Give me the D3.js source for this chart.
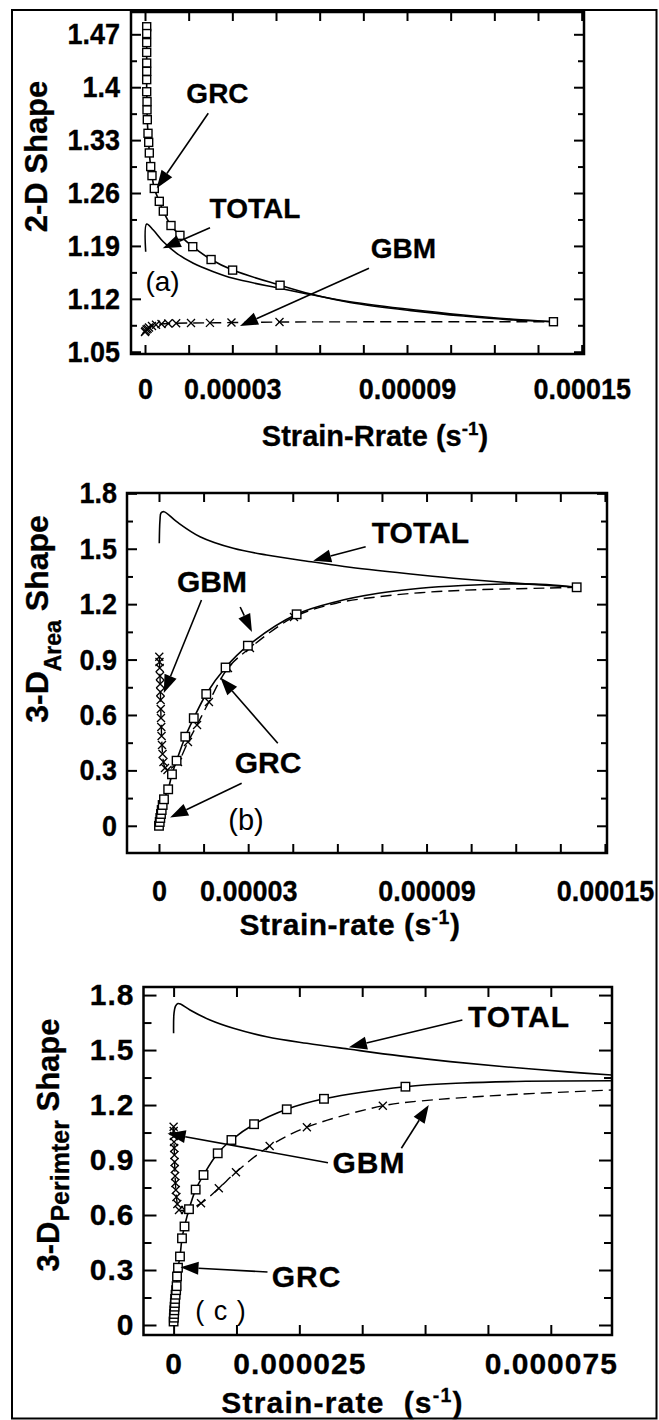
<!DOCTYPE html>
<html>
<head>
<meta charset="utf-8">
<script src="https://cdn.jsdelivr.net/npm/d3@7"></script>
<style>
  body { margin: 0; background: #fff; }
  svg text { font-family: "Liberation Sans", Arial, sans-serif; fill: #000; white-space: pre; }
  .tall { transform-box: fill-box; transform-origin: center; transform: scale(1, 1.1); }
</style>
</head>
<body>
<svg id="fig" width="659" height="1420"></svg>
<script>
// ---- panel (a) data : [strain-rate, shape] ----
var grcMarkA = [[0.00000058,1.480],[0.00000058,1.471],[0.00000058,1.459],[0.00000058,1.446],[0.00000058,1.432],
  [0.00000058,1.421],[0.00000058,1.410],[0.00000058,1.394],[0.00000069,1.381],[0.00000069,1.370],[0.00000079,1.357],
  [0.00000103,1.339],[0.00000127,1.327],[0.00000148,1.313],[0.00000196,1.295],[0.0000024,1.283],[0.00000319,1.266],
  [0.00000491,1.249],[0.00000629,1.236],[0.00000893,1.217],[0.0000120,1.204],[0.0000164,1.189],[0.0000227,1.172],
  [0.0000301,1.158],[0.0000464,1.138],[0.0001403,1.0897]];
var grcTailA = [[0.0000570,1.1263],[0.0000704,1.1151],[0.0000922,1.1040],[0.0001093,1.0972],[0.0001265,1.0919],[0.0001403,1.0897]];
var totalA = [[0.00000024,1.1823],[0.00000058,1.2190],[0.00000285,1.2110],[0.00000629,1.1955],[0.0000109,1.1802],
  [0.0000166,1.1670],[0.0000235,1.1559],[0.0000303,1.1471],[0.0000464,1.1339],[0.0000578,1.1250],[0.0000704,1.1162],
  [0.0000922,1.1055],[0.0001093,1.0986],[0.0001265,1.0929],[0.0001403,1.0897]];
var gbmMarkA = [[0,1.0761],[0.0000002,1.0775],[0.00000052,1.0794],[0.0000009,1.0805],[0.00000137,1.0820],[0.0000024,1.0840],
  [0.00000378,1.0856],[0.00000567,1.0867],[0.0000080,1.0873],[0.0000107,1.0876],[0.0000158,1.0880],[0.0000223,1.0882],
  [0.0000297,1.0886],[0.0000462,1.0893]];
var gbmTailA = [[0.0001403,1.0897]];

// ---- panel (b) data ----
var grcMarkB = [[0,0],[0.00000024,0.0206],[0.00000044,0.0422],[0.00000067,0.0639],[0.00000091,0.0855],[0.00000124,0.1126],
  [0.00000168,0.1435],[0.00000309,0.1976],[0.00000437,0.2788],[0.00000592,0.3525],[0.00000885,0.4824],[0.0000117,0.5826],
  [0.0000159,0.7136],[0.0000224,0.8571],[0.0000299,0.9751],[0.0000463,1.1451],[0.0001405,1.2913]];
var grcTailB = [[0.0000596,1.2133],[0.0000738,1.2588],[0.0000879,1.2859],[0.0001020,1.3010],[0.0001162,1.3091],[0.0001303,1.3065],[0.0001405,1.2913]];
var totalB = [[0.0000001,1.5295],[0.00000034,1.6557],[0.00000067,1.6936],[0.00000168,1.7006],[0.00000595,1.6465],
  [0.0000138,1.5652],[0.0000250,1.5024],[0.0000362,1.466],[0.0000519,1.428],[0.0000642,1.400],[0.0000879,1.358],
  [0.0001020,1.336],[0.0001232,1.310],[0.0001405,1.2913]];
var gbmMarkB = [[0.0000001,0.9155],[0.00000017,0.8868],[0.00000024,0.8544],[0.00000034,0.8111],[0.0000004,0.7677],
  [0.00000047,0.7244],[0.00000054,0.6811],[0.00000061,0.6324],[0.00000067,0.5836],[0.00000077,0.5349],[0.00000087,0.4862],
  [0.00000101,0.4375],[0.00000121,0.3887],[0.00000151,0.3454],[0.00000202,0.3129],[0.00000286,0.3021],[0.00000639,0.3454],
  [0.00000975,0.4537],[0.0000128,0.5458],[0.0000168,0.6703],[0.0000232,0.8543],[0.0000306,0.9626],[0.0000454,1.1305]];
var gbmTailB = [[0.0000596,1.205],[0.0000738,1.240],[0.0000879,1.262],[0.0001020,1.275],[0.0001162,1.282],[0.0001303,1.287],[0.0001405,1.2913]];

// ---- panel (c) data ----
var grcMarkC = [[0,0.019],[0.00000005,0.040],[0.0000001,0.060],[0.00000015,0.080],[0.0000002,0.100],[0.00000025,0.120],
  [0.0000003,0.142],[0.0000004,0.165],[0.0000005,0.190],[0.0000006,0.212],[0.00000068,0.2646],[0.00000087,0.3126],
  [0.00000127,0.3737],[0.00000167,0.4730],[0.00000217,0.5374],[0.00000306,0.6318],[0.00000439,0.7387],[0.00000595,0.8183],
  [0.00000877,0.9367],[0.0000115,1.0093],[0.0000160,1.0955],[0.0000225,1.1768],[0.0000299,1.2340],[0.0000461,1.3001]];
var grcTailC = [[0.0000574,1.3202],[0.0000700,1.3295],[0.0000871,1.3328]];
var totalC = [[0,1.5914],[0.00000008,1.7005],[0.00000038,1.7403],[0.00000087,1.7540],[0.00000147,1.7496],[0.00000326,1.7185],
  [0.00000724,1.6640],[0.0000119,1.6187],[0.0000185,1.5728],[0.0000265,1.5368],[0.0000351,1.5041],[0.0000450,1.468],
  [0.0000550,1.437],[0.0000658,1.409],[0.0000783,1.381],[0.0000871,1.3639]];
var gbmMarkC = [[0,1.0818],[0.00000002,1.0584],[0.00000004,1.0311],[0.00000008,0.9984],[0.00000012,0.9656],[0.00000016,0.9274],
  [0.0000002,0.8893],[0.00000024,0.8511],[0.0000003,0.8129],[0.00000036,0.7747],[0.00000044,0.7365],[0.00000056,0.6983],
  [0.00000074,0.6601],[0.00000107,0.6274],[0.00000227,0.6274],[0.00000545,0.6639],[0.00000899,0.7458],[0.0000124,0.8336],
  [0.0000191,0.9765],[0.0000265,1.0791],[0.0000416,1.1958]];
var gbmTailC = [[0.000049,1.222],[0.0000658,1.2548],[0.0000871,1.282]];

// ---- tick labels ----
var xTickValsAB = [0, 0.00003, 0.00009, 0.00015];
var xTickTextAB = ["0", "0.00003", "0.00009", "0.00015"];
var xTickValsC = [0, 0.000025, 0.000075];
var xTickTextC = ["0", "0.000025", "0.000075"];
var yTickValsA = [1.05, 1.12, 1.19, 1.26, 1.33, 1.4, 1.47];
var yTickTextA = ["1.05", "1.12", "1.19", "1.26", "1.33", "1.4", "1.47"];
var yTickValsBC = [0, 0.3, 0.6, 0.9, 1.2, 1.5, 1.8];
var yTickTextBC = ["0", "0.3", "0.6", "0.9", "1.2", "1.5", "1.8"];

var svg = d3.select("#fig");

// outer frame
svg.append("rect")
    .attr("x", 12).attr("y", 10)
    .attr("width", 644.5).attr("height", 1408.5)
    .attr("fill", "none").attr("stroke", "#000").attr("stroke-width", 2);

function arrow(g, x1, y1, x2, y2) {
    var a = Math.atan2(y2 - y1, x2 - x1);
    var L = 18, W = 6.5;
    var bx = x2 - L * Math.cos(a), by = y2 - L * Math.sin(a);
    g.append("line")
        .attr("x1", x1).attr("y1", y1).attr("x2", bx).attr("y2", by)
        .attr("stroke", "#000").attr("stroke-width", 1.6);
    g.append("path")
        .attr("d", "M" + x2 + "," + y2 +
            "L" + (bx + W * Math.sin(a)) + "," + (by - W * Math.cos(a)) +
            "L" + (bx - W * Math.sin(a)) + "," + (by + W * Math.cos(a)) + "Z")
        .attr("fill", "#000");
}

function panel(p) {
    var x = d3.scaleLinear().domain(p.xDom).range([p.left, p.right]);
    var y = d3.scaleLinear().domain(p.yDom).range([p.bottom, p.top]);
    var g = svg.append("g");

    svg.append("clipPath").attr("id", "clip" + p.id)
        .append("rect")
        .attr("x", p.left).attr("y", p.top)
        .attr("width", p.right - p.left).attr("height", p.bottom - p.top);

    var line = d3.line()
        .x(function(d) { return x(d[0]); })
        .y(function(d) { return y(d[1]); })
        .curve(d3.curveCatmullRom.alpha(0.5));

    var plot = g.append("g").attr("clip-path", "url(#clip" + p.id + ")");

    var gbmLine = p.gbmMark.filter(function(d) { return d[0] < p.gbmTail[0][0]; }).concat(p.gbmTail);
    var grcLine = p.grcMark.filter(function(d) { return d[0] < p.grcTail[0][0]; }).concat(p.grcTail);

    plot.append("path").datum(p.total).attr("d", line)
        .attr("fill", "none").attr("stroke", "#000").attr("stroke-width", 1.6);
    plot.append("path").datum(gbmLine).attr("d", line)
        .attr("fill", "none").attr("stroke", "#000").attr("stroke-width", 1.4)
        .attr("stroke-dasharray", "11,6");
    plot.append("path").datum(grcLine).attr("d", line)
        .attr("fill", "none").attr("stroke", "#000").attr("stroke-width", 1.6);

    // GBM crosses
    plot.selectAll(".cross").data(p.gbmMark).enter().append("path")
        .attr("class", "cross")
        .attr("transform", function(d) { return "translate(" + x(d[0]) + "," + y(d[1]) + ")"; })
        .attr("d", "M-4,-4L4,4M-4,4L4,-4")
        .attr("stroke", "#000").attr("stroke-width", 1.3).attr("fill", "none");

    // GRC squares
    var s = p.sq;
    plot.selectAll(".sq").data(p.grcMark).enter().append("rect")
        .attr("class", "sq")
        .attr("x", function(d) { return x(d[0]) - s / 2; })
        .attr("y", function(d) { return y(d[1]) - s / 2; })
        .attr("width", s).attr("height", s)
        .attr("fill", "#fff").attr("stroke", "#000").attr("stroke-width", 1.4);

    // axes
    var xMinor = d3.range(0, p.xMinorEnd, p.xMinorStep);
    var axes = g.append("g");
    axes.append("g").attr("transform", "translate(0," + p.bottom + ")")
        .call(d3.axisBottom(x).tickValues(xMinor).tickSizeInner(-p.xLen).tickSizeOuter(0).tickFormat(""));
    axes.append("g").attr("transform", "translate(0," + p.top + ")")
        .call(d3.axisTop(x).tickValues(xMinor).tickSizeInner(-p.xLen).tickSizeOuter(0).tickFormat(""));
    axes.append("g").attr("transform", "translate(" + p.left + ",0)")
        .call(d3.axisLeft(y).tickValues(p.yMinor).tickSizeInner(-p.minLen).tickSizeOuter(0).tickFormat(""));
    axes.append("g").attr("transform", "translate(" + p.right + ",0)")
        .call(d3.axisRight(y).tickValues(p.yMinor).tickSizeInner(-p.minLen).tickSizeOuter(0).tickFormat(""));
    axes.append("g").attr("transform", "translate(" + p.right + ",0)")
        .call(d3.axisRight(y).tickValues(p.yTickVals).tickSizeInner(-p.majLen).tickSizeOuter(0).tickFormat(""));

    axes.append("g").attr("transform", "translate(" + p.left + ",0)")
        .call(d3.axisLeft(y).tickValues(p.yTickVals).tickSizeInner(-p.majLen).tickSizeOuter(0)
            .tickPadding(p.yPad).tickFormat(function(d, i) { return p.yTickText[i]; }));
    axes.append("g").attr("transform", "translate(0," + p.bottom + ")")
        .call(d3.axisBottom(x).tickValues(p.xTickVals).tickSize(0)
            .tickPadding(p.xPad).tickFormat(function(d, i) { return p.xTickText[i]; }));

    axes.selectAll(".domain").remove();
    axes.selectAll(".tick line").attr("stroke", "#000").attr("stroke-width", 2);
    axes.selectAll("text")
        .attr("font-family", "'Liberation Sans', Arial, sans-serif")
        .attr("font-size", p.fs).attr("font-weight", "bold")
        .attr("letter-spacing", p.ls).attr("fill", "#000")
        .attr("stroke", "#000").attr("stroke-width", 0.3)
        .classed("tall", p.tall);

    g.append("rect")
        .attr("x", p.left).attr("y", p.top)
        .attr("width", p.right - p.left).attr("height", p.bottom - p.top)
        .attr("fill", "none").attr("stroke", "#000").attr("stroke-width", 2.5);

    // annotations
    var ann = g.append("g");
    p.arrows.forEach(function(a) {
        arrow(ann, x(a[0]), y(a[1]), x(a[2]), y(a[3]));
    });
    p.labels.forEach(function(l) {
        ann.append("text")
            .attr("x", x(l.at[0])).attr("y", y(l.at[1]))
            .attr("text-anchor", "middle")
            .attr("font-size", l.size || p.fs + 1)
            .attr("font-weight", l.normal ? "normal" : "bold")
            .attr("letter-spacing", p.ls)
            .attr("stroke", l.normal ? "none" : "#000").attr("stroke-width", 0.3)
            .text(l.text);
    });

    // axis titles
    var xt = g.append("text")
        .attr("x", p.xTitle.x).attr("y", p.xTitle.y)
        .attr("text-anchor", "middle")
        .attr("font-size", p.titleFs).attr("font-weight", "bold")
        .attr("stroke", "#000").attr("stroke-width", 0.3)
        .attr("letter-spacing", p.titleLs);
    xt.append("tspan").text(p.xTitle.text);
    xt.append("tspan").attr("font-size", p.titleFs * 0.65).attr("dy", -11).text("-1");
    xt.append("tspan").attr("dy", 11).text(")");

    var yt = g.append("text")
        .attr("transform", "translate(" + p.yTitle.x + "," + p.yTitle.y + ") rotate(-90)")
        .attr("text-anchor", "middle")
        .attr("stroke", "#000").attr("stroke-width", 0.3)
        .attr("font-size", p.yTitle.fs).attr("font-weight", "bold");
    yt.append("tspan").text(p.yTitle.main);
    if (p.yTitle.sub) {
        yt.append("tspan").attr("font-size", p.yTitle.subFs).attr("dy", p.yTitle.subDy).text(p.yTitle.sub);
        yt.append("tspan").attr("dy", -p.yTitle.subDy).text(" Shape");
    }
}

panel({
    id: "a", left: 131, right: 584, top: 12, bottom: 354,
    xDom: [-0.00000481, 0.0001508], yDom: [1.047, 1.4995],
    total: totalA, grcMark: grcMarkA, grcTail: grcTailA, gbmMark: gbmMarkA, gbmTail: gbmTailA,
    sq: 8,
    xMinorStep: 0.000015, xMinorEnd: 0.0001501,
    xTickVals: xTickValsAB, xTickText: xTickTextAB,
    yTickVals: yTickValsA, yTickText: yTickTextA, yMinor: d3.range(1.085, 1.46, 0.07),
    fs: 27, ls: 0, tall: true, yPad: 11, xPad: 25, xLen: 9, majLen: 10, minLen: 6,
    arrows: [[0.00002174, 1.3655, 0.00000402, 1.2662],
             [0.00002233, 1.2141, 0.00000608, 1.1868],
             [0.00007694, 1.1604, 0.00003263, 1.0840]],
    labels: [{ text: "GRC", at: [0.0000249, 1.3791] },
             { text: "TOTAL", at: [0.00003778, 1.2269] },
             { text: "GBM", at: [0.00008879, 1.174] },
             { text: "(a)", at: [0.00000601, 1.1303], normal: true, size: 28 }],
    titleFs: 29, titleLs: 0,
    xTitle: { x: 375, y: 446, text: "Strain-Rrate (s" },
    yTitle: { x: 47, y: 156.5, fs: 31, main: "2-D Shape" }
});

panel({
    id: "b", left: 127, right: 607, top: 493, bottom: 853,
    xDom: [-0.00001076, 0.0001507], yDom: [-0.1473, 1.8018],
    total: totalB, grcMark: grcMarkB, grcTail: grcTailB, gbmMark: gbmMarkB, gbmTail: gbmTailB,
    sq: 8.5,
    xMinorStep: 0.000015, xMinorEnd: 0.0001501,
    xTickVals: xTickValsAB, xTickText: xTickTextAB,
    yTickVals: yTickValsBC, yTickText: yTickTextBC, yMinor: d3.range(0.15, 1.7, 0.3),
    fs: 27, ls: 0, tall: true, yPad: 10, xPad: 28, xLen: 9, majLen: 10, minLen: 6,
    arrows: [[0.00006952, 1.5111, 0.00005186, 1.4353],
             [0.00001429, 1.2225, 0.00000161, 0.719],
             [0.00002731, 1.1846, 0.00003128, 1.0493],
             [0.00003996, 0.4467, 0.00002065, 0.8029],
             [0.00002781, 0.2301, 0.00000373, 0.0449]],
    labels: [{ text: "TOTAL", at: [0.00008795, 1.5311], size: 30 },
             { text: "GBM", at: [0.00001783, 1.2685], size: 30 },
             { text: "GRC", at: [0.00003666, 0.2842], size: 30 },
             { text: "(b)", at: [0.00002926, -0.0227], normal: true, size: 29 }],
    titleFs: 30, titleLs: 0.5,
    xTitle: { x: 350, y: 935, text: "Strain-rate (s" },
    yTitle: { x: 48, y: 619, fs: 32, main: "3-D", sub: "Area", subFs: 23, subDy: 13 }
});

panel({
    id: "c", left: 143.5, right: 612, top: 987, bottom: 1335,
    xDom: [-0.000005985, 0.00008717], yDom: [-0.0546, 1.844],
    total: totalC, grcMark: grcMarkC, grcTail: grcTailC, gbmMark: gbmMarkC, gbmTail: gbmTailC,
    sq: 8.5,
    xMinorStep: 0.0000125, xMinorEnd: 0.0000751,
    xTickVals: xTickValsC, xTickText: xTickTextC,
    yTickVals: yTickValsBC, yTickText: yTickTextBC, yMinor: d3.range(0.15, 1.7, 0.3),
    fs: 30, ls: 1, tall: false, yPad: 9, xPad: 18, xLen: 10, majLen: 13, minLen: 8,
    arrows: [[0.00005742, 1.6639, 0.00003486, 1.5150],
             [0.0000307, 0.8854, -0.00000121, 1.0447],
             [0.00004529, 0.9640, 0.00005074, 1.2002],
             [0.00001867, 0.2891, 0.00000137, 0.3148]],
    labels: [{ text: "TOTAL", at: [0.00006868, 1.6257], size: 30 },
             { text: "GBM", at: [0.00003885, 0.8276], size: 30 },
             { text: "GRC", at: [0.00002643, 0.2089], size: 30 },
             { text: "( c )", at: [0.00000942, 0.0273], normal: true, size: 27 }],
    titleFs: 30, titleLs: 1.2,
    xTitle: { x: 342.5, y: 1412.5, text: "Strain-rate  (s" },
    yTitle: { x: 59, y: 1145, fs: 31, main: "3-D", sub: "Perimter", subFs: 25, subDy: 10 }
});
</script>
</body>
</html>
